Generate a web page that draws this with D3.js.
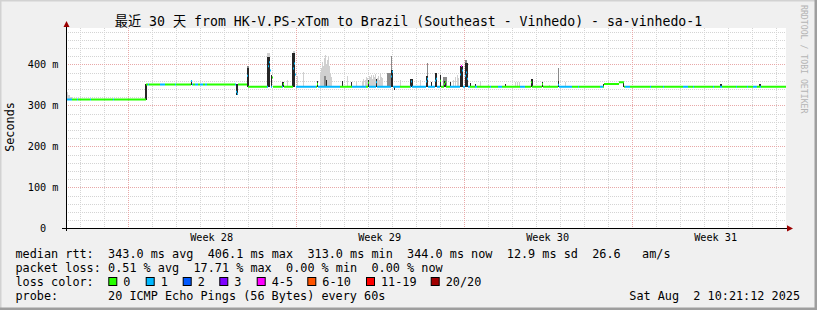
<!DOCTYPE html>
<html>
<head>
<meta charset="utf-8">
<script src="https://cdn.jsdelivr.net/npm/d3@7"></script>
<style>
  html, body { margin: 0; padding: 0; background: #f0f0f0; }
  text { font-family: "DejaVu Sans Mono", "Noto Sans CJK SC", monospace; white-space: pre; }
</style>
</head>
<body>
<div id="chart"></div>
<script>
/* CONSTANTS AND GLOBALS */
const width = 817,
  height = 310,
  plot = { left: 66, right: 786, top: 28, bottom: 228.3 };

/* DATA */
const title = "最近 30 天 from HK-V.PS-xTom to Brazil (Southeast - Vinhedo) - sa-vinhedo-1";
const startTime = new Date(2025, 6, 3, 10, 21, 12);
const endTime = new Date(2025, 7, 2, 10, 21, 12);
const yTicks = [0, 100, 200, 300, 400]; // ms
const weekLabels = ["Week 28", "Week 29", "Week 30", "Week 31"];

// median rtt level changes: [hour since start, ms]
const medianSteps = [[0, 314], [80, 351], [182, 345], [538, 352], [553, 356], [558, 345]];
// single hours where the median jumps away from its level: [hour, ms]
const medianBumps = [
  [125, 359], [170, 333], [171, 328], [181, 372], [202, 395], [203, 405], [204, 385],
  [206, 368], [217, 352], [227, 390], [228, 402], [229, 375], [251, 352], [302, 355],
  [310, 356], [325, 370], [326, 382], [345, 358], [360, 358], [361, 365], [369, 360],
  [370, 365], [374, 360], [378, 352], [379, 356], [394, 375], [395, 396], [396, 385],
  [399, 372], [400, 380], [401, 365], [465, 356], [476, 352], [492, 350]
];
// hours with packet loss: [from hour, to hour, loss class index]; rest is class 0
const lossSpans = [
  [0, 6, 1], [11, 12, 1], [24, 25, 1], [47, 48, 1], [82, 83, 1], [94, 99, 1], [109, 110, 1],
  [125, 127, 1], [129, 132, 1], [134, 137, 1], [139, 141, 1], [169, 172, 1], [181, 182, 1],
  [201, 206, 1], [216, 217, 1], [227, 250, 1], [252, 274, 1], [286, 300, 1], [303, 334, 1],
  [344, 374, 1], [384, 404, 1], [395, 396, 4], [409, 411, 1], [424, 425, 1], [432, 436, 1],
  [454, 459, 1], [492, 506, 1], [512, 513, 1], [534, 537, 1], [559, 564, 1], [584, 585, 1],
  [597, 598, 1], [617, 622, 1], [627, 628, 1], [647, 648, 1], [654, 656, 1], [670, 671, 1],
  [681, 682, 1], [687, 691, 1], [694, 695, 1]
];
// smoke (spread of the pings): [from hour, to hour, low ms, high ms, density 0 light .. 2 dark]
const smoke = [
  [0, 2, 312, 333, 0], [2, 4, 312, 326, 0], [4, 6, 312, 320, 0], [79, 81, 314, 351, 2],
  [125, 126, 350, 362, 2], [170, 172, 325, 351, 2],
  [181, 183, 345, 395, 1], [181, 183, 345, 390, 2], [201, 204, 418, 428, 0], [201, 204, 345, 418, 2],
  [205, 206, 345, 374, 2], [216, 218, 345, 357, 2], [221, 222, 345, 362, 0], [227, 229, 427, 432, 0],
  [226, 229, 345, 427, 2], [231, 232, 345, 372, 0], [237, 238, 345, 382, 0], [251, 252, 345, 360, 2],
  [254, 255, 345, 375, 0], [255, 256, 345, 392, 0], [256, 257, 345, 405, 0], [257, 258, 345, 396, 0],
  [258, 259, 345, 415, 0], [259, 260, 345, 422, 0], [260, 261, 345, 400, 0], [261, 262, 345, 410, 0],
  [262, 263, 345, 419, 0], [263, 264, 345, 395, 0], [264, 265, 345, 380, 0], [265, 266, 345, 368, 0],
  [258, 260, 345, 372, 1], [260, 261, 345, 362, 2], [276, 277, 345, 360, 2], [281, 282, 345, 372, 0],
  [285, 286, 345, 358, 2], [290, 291, 345, 360, 0],
  [296, 297, 345, 358, 0], [297, 298, 345, 365, 0], [299, 300, 345, 362, 0], [300, 301, 345, 370, 0],
  [301, 302, 345, 366, 0], [303, 304, 345, 372, 0], [304, 305, 345, 368, 0], [305, 306, 345, 375, 0],
  [306, 307, 345, 364, 0], [307, 308, 345, 373, 0], [308, 309, 345, 369, 0], [309, 310, 345, 376, 0],
  [311, 312, 345, 366, 0], [312, 313, 345, 371, 0], [313, 314, 345, 362, 0], [314, 315, 345, 378, 0],
  [315, 316, 345, 370, 0], [316, 317, 345, 366, 0], [302, 303, 345, 362, 2],
  [310, 311, 345, 365, 2], [321, 325, 345, 380, 1], [325, 326, 386, 420, 1], [325, 327, 345, 386, 2],
  [328, 329, 338, 345, 2], [334, 335, 345, 362, 0], [344, 347, 345, 363, 2], [354, 355, 345, 362, 0],
  [361, 362, 371, 402, 1], [360, 362, 345, 371, 2], [365, 366, 345, 356, 2], [369, 371, 345, 378, 2],
  [374, 375, 345, 374, 2], [377, 381, 345, 368, 1], [378, 380, 345, 360, 2], [384, 385, 345, 357, 2],
  [387, 388, 345, 362, 0], [389, 390, 345, 370, 0], [391, 392, 345, 375, 0], [392, 393, 345, 366, 0],
  [394, 397, 345, 396, 2], [399, 401, 402, 410, 1], [399, 402, 345, 402, 2],
  [404, 405, 345, 355, 2], [409, 410, 345, 352, 2], [414, 415, 345, 356, 0], [422, 423, 345, 353, 0],
  [439, 440, 345, 352, 2], [449, 450, 345, 358, 0], [451, 452, 345, 356, 0], [453, 454, 345, 358, 0],
  [465, 467, 345, 363, 2], [476, 477, 345, 357, 2],
  [483, 484, 345, 350, 0], [492, 493, 345, 390, 1], [492, 493, 345, 360, 2], [499, 500, 345, 358, 0],
  [537, 538, 345, 352, 2], [557, 558, 345, 356, 2], [654, 656, 345, 353, 2], [693, 695, 345, 353, 2]
];

const statLabels = ["median rtt:", "packet loss:", "loss color:", "probe:"];
const rttStats = ["343.0 ms avg", "406.1 ms max", "313.0 ms min", "344.0 ms now", "12.9 ms sd", "26.6", "am/s"];
const lossStats = ["0.51 % avg", "17.71 % max", "0.00 % min", "0.00 % now"];
const lossClasses = ["0", "1", "2", "3", "4-5", "6-10", "11-19", "20/20"];
const probeText = "20 ICMP Echo Pings (56 Bytes) every 60s";
const stampText = "Sat Aug  2 10:21:12 2025";

/* STYLE */
const lossColor = d3.scaleOrdinal()
  .domain(d3.range(lossClasses.length))
  .range(["#26ff00", "#00b8ff", "#0059ff", "#7e00ff", "#ff00ff", "#ff5500", "#ff0000", "#a10000"]);
const smokeColor = d3.scaleOrdinal().domain([0, 1, 2]).range(["#d0d0d0", "#8a8a8a", "#262626"]);
const gridColor = "#d4d4d4", mgridColor = "#e8a8a8", arrowColor = "#9b0000";
const charW = 7.12, legendFont = charW / 0.602, axisFont = 10.2;

/* SCALES */
const hourDate = h => new Date(+startTime + h * 3600e3);
const xScale = d3.scaleTime().domain([startTime, endTime]).range([plot.left, plot.right]);
const yScale = d3.scaleLinear().domain([0, 400]).range([plot.bottom, 64.3]);

const svg = d3.select("#chart").append("svg")
  .attr("width", width)
  .attr("height", height);

// frame
svg.append("rect").attr("width", width).attr("height", height).attr("fill", "#f0f0f0");
svg.append("path").attr("d", `M0,${height} V0 H${width}`).attr("stroke", "#d2d2d2").attr("stroke-width", 3).attr("fill", "none");
svg.append("path").attr("d", `M0,${height - 1} H${width - 1} V0`).attr("stroke", "#9e9e9e").attr("stroke-width", 3).attr("fill", "none");

// canvas
svg.append("rect")
  .attr("x", plot.left).attr("y", plot.top)
  .attr("width", plot.right - plot.left).attr("height", plot.bottom - plot.top)
  .attr("fill", "#ffffff");

// + GRID
const minorY = d3.range(20, 500, 20).filter(v => v % 100 !== 0 && yScale(v) > plot.top);
const grid = svg.append("g").attr("shape-rendering", "crispEdges");
grid.selectAll(".gy").data(minorY).join("line")
  .attr("x1", plot.left).attr("x2", plot.right)
  .attr("y1", d => Math.round(yScale(d)) + 0.5).attr("y2", d => Math.round(yScale(d)) + 0.5)
  .attr("stroke", gridColor).attr("stroke-dasharray", "1,1");
const days = d3.timeDay.range(startTime, endTime);
grid.selectAll(".gx").data(days.filter(d => d.getDay() !== 0)).join("line")
  .attr("y1", plot.top).attr("y2", plot.bottom)
  .attr("x1", d => Math.round(xScale(d)) + 0.5).attr("x2", d => Math.round(xScale(d)) + 0.5)
  .attr("stroke", gridColor).attr("stroke-dasharray", "1,1");
grid.selectAll(".my").data(yTicks.filter(v => v > 0)).join("line")
  .attr("x1", plot.left).attr("x2", plot.right)
  .attr("y1", d => Math.round(yScale(d)) + 0.5).attr("y2", d => Math.round(yScale(d)) + 0.5)
  .attr("stroke", mgridColor).attr("stroke-dasharray", "1,1");
const sundays = d3.timeSunday.range(startTime, endTime);
grid.selectAll(".mx").data(sundays).join("line")
  .attr("y1", plot.top).attr("y2", plot.bottom)
  .attr("x1", d => Math.round(xScale(d)) + 0.5).attr("x2", d => Math.round(xScale(d)) + 0.5)
  .attr("stroke", mgridColor).attr("stroke-dasharray", "1,1");

// + SMOKE
const smokeG = svg.append("g").attr("shape-rendering", "crispEdges");
smokeG.selectAll("rect")
  .data(smoke.slice().sort((a, b) => a[4] - b[4]))
  .join("rect")
  .attr("x", d => xScale(hourDate(d[0])))
  .attr("width", d => xScale(hourDate(d[1])) - xScale(hourDate(d[0])))
  .attr("y", d => yScale(d[3]))
  .attr("height", d => yScale(d[2]) - yScale(d[3]))
  .attr("fill", d => smokeColor(d[4]));

// + MEDIAN LINE coloured by loss
const hours = d3.range(0, 720);
const medianAt = h => {
  const bump = medianBumps.find(b => b[0] === h);
  if (bump) return bump[1];
  let v = medianSteps[0][1];
  medianSteps.forEach(s => { if (s[0] <= h) v = s[1]; });
  return v;
};
const lossAt = h => {
  let c = 0;
  lossSpans.forEach(s => { if (h >= s[0] && h < s[1]) c = s[2]; });
  return c;
};
svg.append("g").selectAll("line")
  .data(hours)
  .join("line")
  .attr("x1", h => xScale(hourDate(h)))
  .attr("x2", h => xScale(hourDate(h + 1)))
  .attr("y1", h => yScale(medianAt(h)))
  .attr("y2", h => yScale(medianAt(h)))
  .attr("stroke", h => lossColor(lossAt(h)))
  .attr("stroke-width", 2);

// + AXES
const axes = svg.append("g").attr("shape-rendering", "crispEdges");
axes.append("line").attr("x1", plot.left + 0.5).attr("x2", plot.left + 0.5)
  .attr("y1", 23).attr("y2", plot.bottom + 3).attr("stroke", "#000");
axes.append("line").attr("x1", plot.left - 4).attr("x2", plot.right + 4)
  .attr("y1", Math.round(plot.bottom) + 0.5).attr("y2", Math.round(plot.bottom) + 0.5).attr("stroke", "#000");
svg.append("path").attr("d", `M${plot.left - 2.5},27 L${plot.left + 0.5},21 L${plot.left + 3.5},27 Z`).attr("fill", arrowColor);
svg.append("path").attr("d", `M${plot.right + 1},${plot.bottom - 3} L${plot.right + 7},${plot.bottom + 0.2} L${plot.right + 1},${plot.bottom + 3.2} Z`).attr("fill", arrowColor);

svg.append("g").selectAll("text")
  .data(yTicks)
  .join("text")
  .attr("x", 58.5)
  .attr("y", d => yScale(d) + 3.8)
  .attr("text-anchor", "end")
  .attr("font-size", axisFont)
  .text(d => d === 0 ? "0  " : `${d} m`);

svg.append("g").selectAll("text")
  .data(sundays)
  .join("text")
  .attr("x", d => xScale(d3.timeHour.offset(d, 84)))
  .attr("y", 240.5)
  .attr("text-anchor", "middle")
  .attr("font-size", axisFont)
  .text((d, i) => weekLabels[i]);

svg.append("text")
  .attr("transform", "translate(13.5,127) rotate(-90)")
  .attr("text-anchor", "middle")
  .attr("font-size", 11.8)
  .text("Seconds");

svg.append("text")
  .attr("transform", "translate(800.5,5) rotate(90)")
  .attr("font-size", 8.2)
  .attr("fill", "#b4b4b4")
  .text("RRDTOOL / TOBI OETIKER");

svg.append("text")
  .attr("x", width / 2)
  .attr("y", 26)
  .attr("text-anchor", "middle")
  .attr("font-size", 13.2)
  .text(title);

// + LEGEND (monospace columns)
const x0 = 15.5;
const col = c => x0 + c * charW;
const rowY = [258, 272, 285.8, 299.6];
const rttCols = [13, 27, 41, 55, 69, 81, 88];
const lossCols = [13, 25, 38, 50];
const boxX = [108.3, 145.7, 182.7, 219.3, 256.7, 307.3, 366, 430.7];
const legend = svg.append("g").attr("font-size", legendFont);
legend.selectAll(".lab").data(statLabels).join("text")
  .attr("x", x0).attr("y", (d, i) => rowY[i]).text(d => d);
legend.selectAll(".rtt").data(rttStats).join("text")
  .attr("x", (d, i) => col(rttCols[i])).attr("y", rowY[0]).text(d => d);
legend.selectAll(".loss").data(lossStats).join("text")
  .attr("x", (d, i) => col(lossCols[i])).attr("y", rowY[1]).text(d => d);
legend.selectAll("rect").data(lossClasses).join("rect")
  .attr("x", (d, i) => boxX[i] + 0.5).attr("y", 277.5)
  .attr("width", 8).attr("height", 8)
  .attr("fill", (d, i) => lossColor(i))
  .attr("stroke", "#000");
legend.selectAll(".lc").data(lossClasses).join("text")
  .attr("x", (d, i) => boxX[i] + 15).attr("y", rowY[2]).text(d => d);
legend.append("text").attr("x", col(13)).attr("y", rowY[3]).text(probeText);
legend.append("text").attr("x", 800).attr("y", rowY[3]).attr("text-anchor", "end").text(stampText);
</script>
</body>
</html>
